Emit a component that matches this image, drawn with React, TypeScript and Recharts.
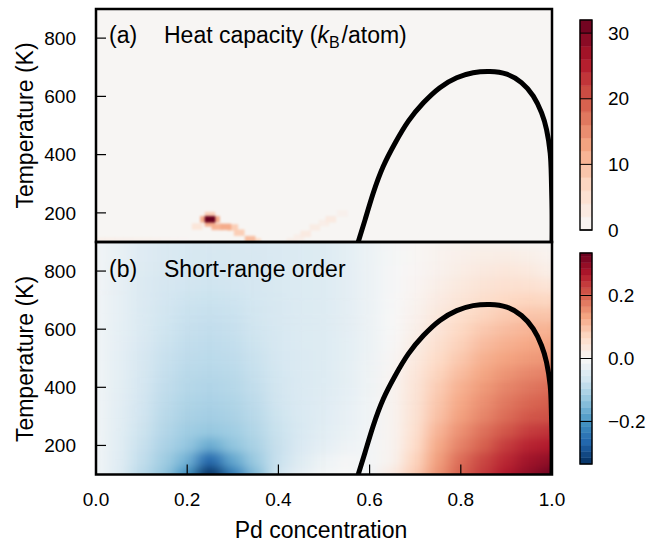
import React from "react";
import { LineChart, Line, XAxis, YAxis, ReferenceArea, ReferenceLine } from "recharts";

const W = 654;
const H = 544;
const FONT = '"Liberation Sans", Arial, Helvetica, sans-serif';

// axis ticks
const xTicks = [0, 0.2, 0.4, 0.6, 0.8, 1.0];
const tTicks = [200, 400, 600, 800];
const cpTicks = [0, 10, 20, 30];
const sroTicks = [-0.2, 0, 0.2];

// miscibility gap (black curve)
const gapX = [0.575, 0.59, 0.608, 0.63, 0.656, 0.685, 0.718, 0.754, 0.791, 0.827, 0.864, 0.901, 0.933, 0.959, 0.977, 0.988, 0.996, 0.9985, 1.0, 1.0];
const gapT = [100, 176, 268, 360, 440, 515, 578, 630, 664, 681, 685, 676, 647, 601, 544, 486, 406, 325, 210, 100];

// short-range order map: columns (Pd concentration) x rows (temperature)
const sroX = [0, 0.05, 0.1, 0.15, 0.2, 0.25, 0.3, 0.35, 0.4, 0.45, 0.5, 0.55, 0.6, 0.65, 0.7, 0.75, 0.8, 0.85, 0.9, 0.95, 1.0];
const sroT = [100, 150, 200, 250, 300, 350, 400, 450, 500, 550, 600, 650, 700, 750, 800, 850, 900];
const sro100 = [-0.012, -0.042, -0.09, -0.13, -0.2, -0.335, -0.235, -0.145, -0.065, -0.032, -0.008, 0, -0.012, 0.03, 0.085, 0.15, 0.2, 0.235, 0.27, 0.3, 0.33];
const sro150 = [-0.012, -0.04, -0.082, -0.118, -0.16, -0.27, -0.175, -0.122, -0.076, -0.044, -0.02, -0.006, -0.008, 0.012, 0.075, 0.14, 0.19, 0.225, 0.255, 0.285, 0.3];
const sro200 = [-0.013, -0.039, -0.075, -0.106, -0.132, -0.17, -0.136, -0.107, -0.077, -0.052, -0.033, -0.018, -0.008, 0.01, 0.062, 0.128, 0.17, 0.2, 0.235, 0.26, 0.27];
const sro250 = [-0.013, -0.038, -0.07, -0.098, -0.12, -0.13, -0.12, -0.099, -0.074, -0.054, -0.039, -0.026, -0.01, 0.01, 0.055, 0.115, 0.155, 0.185, 0.21, 0.235, 0.245];
const sro300 = [-0.013, -0.037, -0.066, -0.092, -0.11, -0.117, -0.11, -0.092, -0.07, -0.053, -0.042, -0.029, -0.012, 0.01, 0.05, 0.1, 0.14, 0.165, 0.19, 0.21, 0.215];
const sro350 = [-0.013, -0.036, -0.062, -0.087, -0.103, -0.109, -0.103, -0.087, -0.066, -0.052, -0.043, -0.031, -0.013, 0.01, 0.048, 0.093, 0.13, 0.155, 0.178, 0.195, 0.203];
const sro400 = [-0.013, -0.035, -0.058, -0.083, -0.097, -0.102, -0.097, -0.082, -0.063, -0.051, -0.044, -0.033, -0.015, 0.01, 0.045, 0.085, 0.12, 0.145, 0.165, 0.18, 0.19];
const sro450 = [-0.013, -0.034, -0.056, -0.079, -0.092, -0.096, -0.092, -0.078, -0.061, -0.051, -0.045, -0.034, -0.016, 0.007, 0.04, 0.075, 0.106, 0.132, 0.15, 0.163, 0.17];
const sro500 = [-0.012, -0.033, -0.054, -0.075, -0.087, -0.091, -0.087, -0.074, -0.059, -0.051, -0.046, -0.035, -0.018, 0.004, 0.034, 0.065, 0.092, 0.12, 0.135, 0.145, 0.15];
const sro550 = [-0.012, -0.032, -0.052, -0.071, -0.083, -0.087, -0.083, -0.07, -0.057, -0.05, -0.046, -0.035, -0.019, 0.002, 0.027, 0.055, 0.08, 0.105, 0.12, 0.13, 0.135];
const sro600 = [-0.012, -0.031, -0.05, -0.068, -0.079, -0.083, -0.079, -0.067, -0.056, -0.05, -0.046, -0.036, -0.02, 0, 0.02, 0.045, 0.07, 0.09, 0.105, 0.115, 0.118];
const sro650 = [-0.012, -0.03, -0.049, -0.065, -0.075, -0.079, -0.075, -0.064, -0.055, -0.05, -0.046, -0.036, -0.02, -0.001, 0.016, 0.037, 0.058, 0.075, 0.088, 0.095, 0.095];
const sro700 = [-0.012, -0.03, -0.048, -0.062, -0.071, -0.074, -0.071, -0.061, -0.054, -0.05, -0.046, -0.036, -0.02, -0.002, 0.012, 0.03, 0.046, 0.06, 0.07, 0.075, 0.072];
const sro750 = [-0.011, -0.029, -0.047, -0.058, -0.066, -0.069, -0.066, -0.058, -0.053, -0.05, -0.046, -0.036, -0.02, -0.003, 0.009, 0.022, 0.036, 0.048, 0.055, 0.055, 0.045];
const sro800 = [-0.011, -0.028, -0.045, -0.055, -0.061, -0.064, -0.061, -0.056, -0.052, -0.05, -0.046, -0.036, -0.02, -0.004, 0.006, 0.016, 0.027, 0.035, 0.04, 0.036, 0.022];
const sro850 = [-0.011, -0.027, -0.043, -0.052, -0.057, -0.059, -0.057, -0.054, -0.051, -0.049, -0.045, -0.035, -0.02, -0.005, 0.005, 0.012, 0.02, 0.025, 0.026, 0.022, 0.012];
const sro900 = [-0.011, -0.026, -0.041, -0.05, -0.054, -0.055, -0.054, -0.052, -0.05, -0.048, -0.044, -0.035, -0.02, -0.006, 0.004, 0.01, 0.014, 0.015, 0.014, 0.01, 0.005];
const sroRows = [sro100, sro150, sro200, sro250, sro300, sro350, sro400, sro450, sro500, sro550, sro600, sro650, sro700, sro750, sro800, sro850, sro900];

// heat capacity hot spots (everything else is ~0)
const cpBase = 0.5;
const cpX = [0.25, 0.25, 0.25, 0.24, 0.26, 0.222, 0.265, 0.285, 0.3, 0.314, 0.338, 0.35, 0.01, 0.03, 0.05, 0.07, 0.09, 0.11, 0.13, 0.15, 0.17, 0.19, 0.43, 0.445, 0.46, 0.48, 0.5, 0.515, 0.54];
const cpT = [178, 192, 164, 178, 178, 153, 152, 152, 150, 132, 110, 102, 105, 105, 105, 105, 105, 105, 105, 105, 105, 105, 103, 115, 128, 150, 165, 178, 198];
const cpV = [32, 8, 12, 12, 12, 4, 11, 12, 8, 8, 10, 6, 1.6, 1.6, 1.5, 1.5, 1.4, 1.3, 1.2, 1.0, 0.8, 0.6, 2, 2, 3, 2.5, 2, 3, 1.5];

// colorbar levels
const cpLevels = [0, 2, 4, 6, 8, 10, 12, 14, 16, 18, 20, 22, 24, 26, 28, 30, 32];
const sroLevels = [-0.335, -0.315, -0.295, -0.275, -0.255, -0.235, -0.215, -0.195, -0.175, -0.155, -0.135, -0.115, -0.095, -0.075, -0.055, -0.035, -0.015, 0.005, 0.025, 0.045, 0.065, 0.085, 0.105, 0.125, 0.145, 0.165, 0.185, 0.205, 0.225, 0.245, 0.265, 0.285, 0.305, 0.325, 0.335];

const CP_MAX = 32;
const SRO_MAX = 0.335;

// RdBu_r
const RDBU = ["#053061", "#2166ac", "#4393c3", "#92c5de", "#d1e5f0", "#f7f7f7", "#fddbc7", "#f4a582", "#d6604d", "#b2182b", "#67001f"];

function hexRgb(h: string) {
  return [parseInt(h.slice(1, 3), 16), parseInt(h.slice(3, 5), 16), parseInt(h.slice(5, 7), 16)];
}

function cmap(t: number) {
  const c = Math.min(1, Math.max(0, t)) * (RDBU.length - 1);
  const i = Math.min(Math.floor(c), RDBU.length - 2);
  const f = c - i;
  const a = hexRgb(RDBU[i]);
  const b = hexRgb(RDBU[i + 1]);
  const m = a.map((v, k) => Math.round(v + (b[k] - v) * f));
  return `rgb(${m[0]},${m[1]},${m[2]})`;
}

const cpColor = (v: number) => cmap(0.5 + (0.5 * v) / CP_MAX);
const sroColor = (v: number) => cmap(0.5 + v / (2 * SRO_MAX));

// cell edges halfway between grid points, edge cells pushed outwards (clipped later)
function edges(vals: number[], i: number) {
  const n = vals.length;
  const lo = i === 0 ? vals[0] - 1.5 * (vals[1] - vals[0]) : (vals[i - 1] + vals[i]) / 2;
  const hi = i === n - 1 ? vals[i] + 1.5 * (vals[i] - vals[i - 1]) : (vals[i] + vals[i + 1]) / 2;
  return [lo, hi];
}

type Cell = { x1: number; x2: number; y1: number; y2: number; fill: string };

const sroCells: Cell[] = [];
sroT.forEach((t, j) => {
  const [y1, y2] = edges(sroT, j);
  sroX.forEach((x, i) => {
    const [x1, x2] = edges(sroX, i);
    sroCells.push({ x1, x2, y1, y2, fill: sroColor(sroRows[j][i]) });
  });
});

// hottest spots drawn last so they stay on top
const cpOrder = cpV.map((_, i) => i).sort((a, b) => cpV[a] - cpV[b]);
const cpCells: Cell[] = [{ x1: -0.1, x2: 1.1, y1: 0, y2: 1000, fill: cpColor(cpBase) }];
cpOrder.forEach((i) => {
  cpCells.push({ x1: cpX[i] - 0.011, x2: cpX[i] + 0.011, y1: cpT[i] - 10, y2: cpT[i] + 10, fill: cpColor(cpV[i]) });
});

const gapData = gapX.map((x, i) => ({ x, T: gapT[i] }));

type Margin = { top: number; right: number; bottom: number; left: number };

const marginA: Margin = { top: 9, right: 102, bottom: H - 242, left: 96 };
const marginB: Margin = { top: 242, right: 102, bottom: H - 474.5, left: 96 };
const marginCbA: Margin = { top: 20, right: 62, bottom: H - 230, left: 580 };
const marginCbB: Margin = { top: 253, right: 62, bottom: H - 464, left: 580 };

// axes are 1px wide/high, so take that pixel out of the margin
const inset = (m: Margin): Margin => ({ top: m.top - 1, right: m.right - 1, bottom: m.bottom - 1, left: m.left - 1 });

function HeatLayer({ margin, cells, filter }: { margin: Margin; cells: Cell[]; filter: string }) {
  const w = W - margin.left - margin.right;
  const h = H - margin.top - margin.bottom;
  return (
    <div style={{ position: "absolute", left: margin.left, top: margin.top, width: w, height: h, overflow: "hidden" }}>
      <div style={{ position: "absolute", left: -margin.left, top: -margin.top, width: W, height: H, filter }}>
        <LineChart width={W} height={H} margin={margin} data={gapData}>
          <XAxis type="number" dataKey="x" domain={[0, 1]} hide allowDataOverflow />
          <YAxis type="number" domain={[100, 900]} hide allowDataOverflow />
          {cells.map((c, k) => (
            <ReferenceArea key={k} x1={c.x1} x2={c.x2} y1={c.y1} y2={c.y2} fill={c.fill} fillOpacity={1} stroke={c.fill} strokeWidth={0.6} ifOverflow="visible" />
          ))}
        </LineChart>
      </div>
    </div>
  );
}

const tickLineStyle = { stroke: "#000", strokeWidth: 1.2 };

function Frame({ margin, xLabels }: { margin: Margin; xLabels: boolean }) {
  return (
    <div style={{ position: "absolute", left: 0, top: 0 }}>
      <LineChart width={W} height={H} margin={inset(margin)} data={gapData}>
        <XAxis type="number" dataKey="x" domain={[0, 1]} ticks={xTicks} interval={0} allowDataOverflow height={1}
          tickSize={-10} tickMargin={28.5} axisLine={false} tickLine={tickLineStyle}
          tick={xLabels ? { fill: "#000", fontSize: 19 } : false} tickFormatter={(v: number) => v.toFixed(1)} />
        <XAxis xAxisId="top" orientation="top" type="number" domain={[0, 1]} ticks={xTicks} interval={0} allowDataOverflow height={1}
          tickSize={-10} axisLine={false} tickLine={tickLineStyle} tick={false} />
        <YAxis type="number" domain={[100, 900]} ticks={tTicks} interval={0} allowDataOverflow width={1}
          tickSize={-10} tickMargin={30} axisLine={false} tickLine={tickLineStyle} tick={{ fill: "#000", fontSize: 19 }} />
        <YAxis yAxisId="right" orientation="right" type="number" domain={[100, 900]} ticks={tTicks} interval={0} allowDataOverflow width={1}
          tickSize={-10} axisLine={false} tickLine={tickLineStyle} tick={false} />
        <Line type="natural" dataKey="T" stroke="#000" strokeWidth={5} dot={false} activeDot={false} isAnimationActive={false} />
        <ReferenceArea x1={0} x2={1} y1={100} y2={900} fill="none" fillOpacity={0} stroke="#000" strokeWidth={2.5} ifOverflow="visible" />
      </LineChart>
    </div>
  );
}

function Colorbar({ margin, levels, color, ticks, fmt }: { margin: Margin; levels: number[]; color: (v: number) => string; ticks: number[]; fmt: (v: number) => string }) {
  const lo = levels[0];
  const hi = levels[levels.length - 1];
  const bandData = levels.map((v) => ({ x: 0.5, v }));
  return (
    <div style={{ position: "absolute", left: 0, top: 0 }}>
      <LineChart width={W} height={H} margin={{ ...margin, right: margin.right - 1 }} data={bandData}>
        <XAxis type="number" dataKey="x" domain={[0, 1]} hide allowDataOverflow />
        <YAxis orientation="right" type="number" domain={[lo, hi]} ticks={ticks} interval={0} allowDataOverflow width={1}
          tickSize={0} tickMargin={16} axisLine={false} tickLine={false} tick={{ fill: "#000", fontSize: 19 }} tickFormatter={fmt} />
        {levels.slice(0, -1).map((v, i) => (
          <ReferenceArea key={i} x1={0} x2={1} y1={v} y2={levels[i + 1]} fill={color((v + levels[i + 1]) / 2)} fillOpacity={1}
            stroke={color((v + levels[i + 1]) / 2)} strokeWidth={0.5} ifOverflow="visible" />
        ))}
        {ticks.map((t) => (
          <ReferenceLine key={t} y={t} stroke="#000" strokeWidth={1} ifOverflow="visible" />
        ))}
        <ReferenceArea x1={0} x2={1} y1={lo} y2={hi} fill="none" fillOpacity={0} stroke="#000" strokeWidth={1.4} ifOverflow="visible" />
      </LineChart>
    </div>
  );
}

const fmtCp = (v: number) => String(v);
const fmtSro = (v: number) => (v < 0 ? "\u2212" + Math.abs(v).toFixed(1) : v.toFixed(1));

export default function App() {
  return (
    <div style={{ position: "absolute", left: 0, top: 0, width: W, height: H, background: "#fff", fontFamily: FONT, overflow: "hidden" }}>
      <svg width={0} height={0} style={{ position: "absolute" }}>
        <defs>
          <filter id="sroSmooth" x="-10%" y="-10%" width="120%" height="120%" colorInterpolationFilters="sRGB">
            <feGaussianBlur stdDeviation="8 4.5" />
          </filter>
        </defs>
      </svg>
      <HeatLayer margin={marginA} cells={cpCells} filter="blur(1.2px)" />
      <HeatLayer margin={marginB} cells={sroCells} filter="url(#sroSmooth)" />
      <Frame margin={marginA} xLabels={false} />
      <Frame margin={marginB} xLabels={true} />
      <Colorbar margin={marginCbA} levels={cpLevels} color={cpColor} ticks={cpTicks} fmt={fmtCp} />
      <Colorbar margin={marginCbB} levels={sroLevels} color={sroColor} ticks={sroTicks} fmt={fmtSro} />
      <svg width={W} height={H} style={{ position: "absolute", left: 0, top: 0, pointerEvents: "none" }} fontFamily={FONT} fill="#000">
        <text x={109} y={42.5} fontSize={23}>(a)</text>
        <text x={164} y={42.5} fontSize={23}>
          Heat capacity (<tspan fontStyle="italic">k</tspan><tspan fontSize={16} dy={5}>B</tspan><tspan dx={2} dy={-5}>/atom)</tspan>
        </text>
        <text x={109} y={276.5} fontSize={23}>(b)</text>
        <text x={164} y={276.5} fontSize={23}>Short-range order</text>
        <text transform="translate(32.5 125.5) rotate(-90)" textAnchor="middle" fontSize={23}>Temperature (K)</text>
        <text transform="translate(32.5 359) rotate(-90)" textAnchor="middle" fontSize={23}>Temperature (K)</text>
        <text x={321} y={538} textAnchor="middle" fontSize={23}>Pd concentration</text>
      </svg>
    </div>
  );
}
